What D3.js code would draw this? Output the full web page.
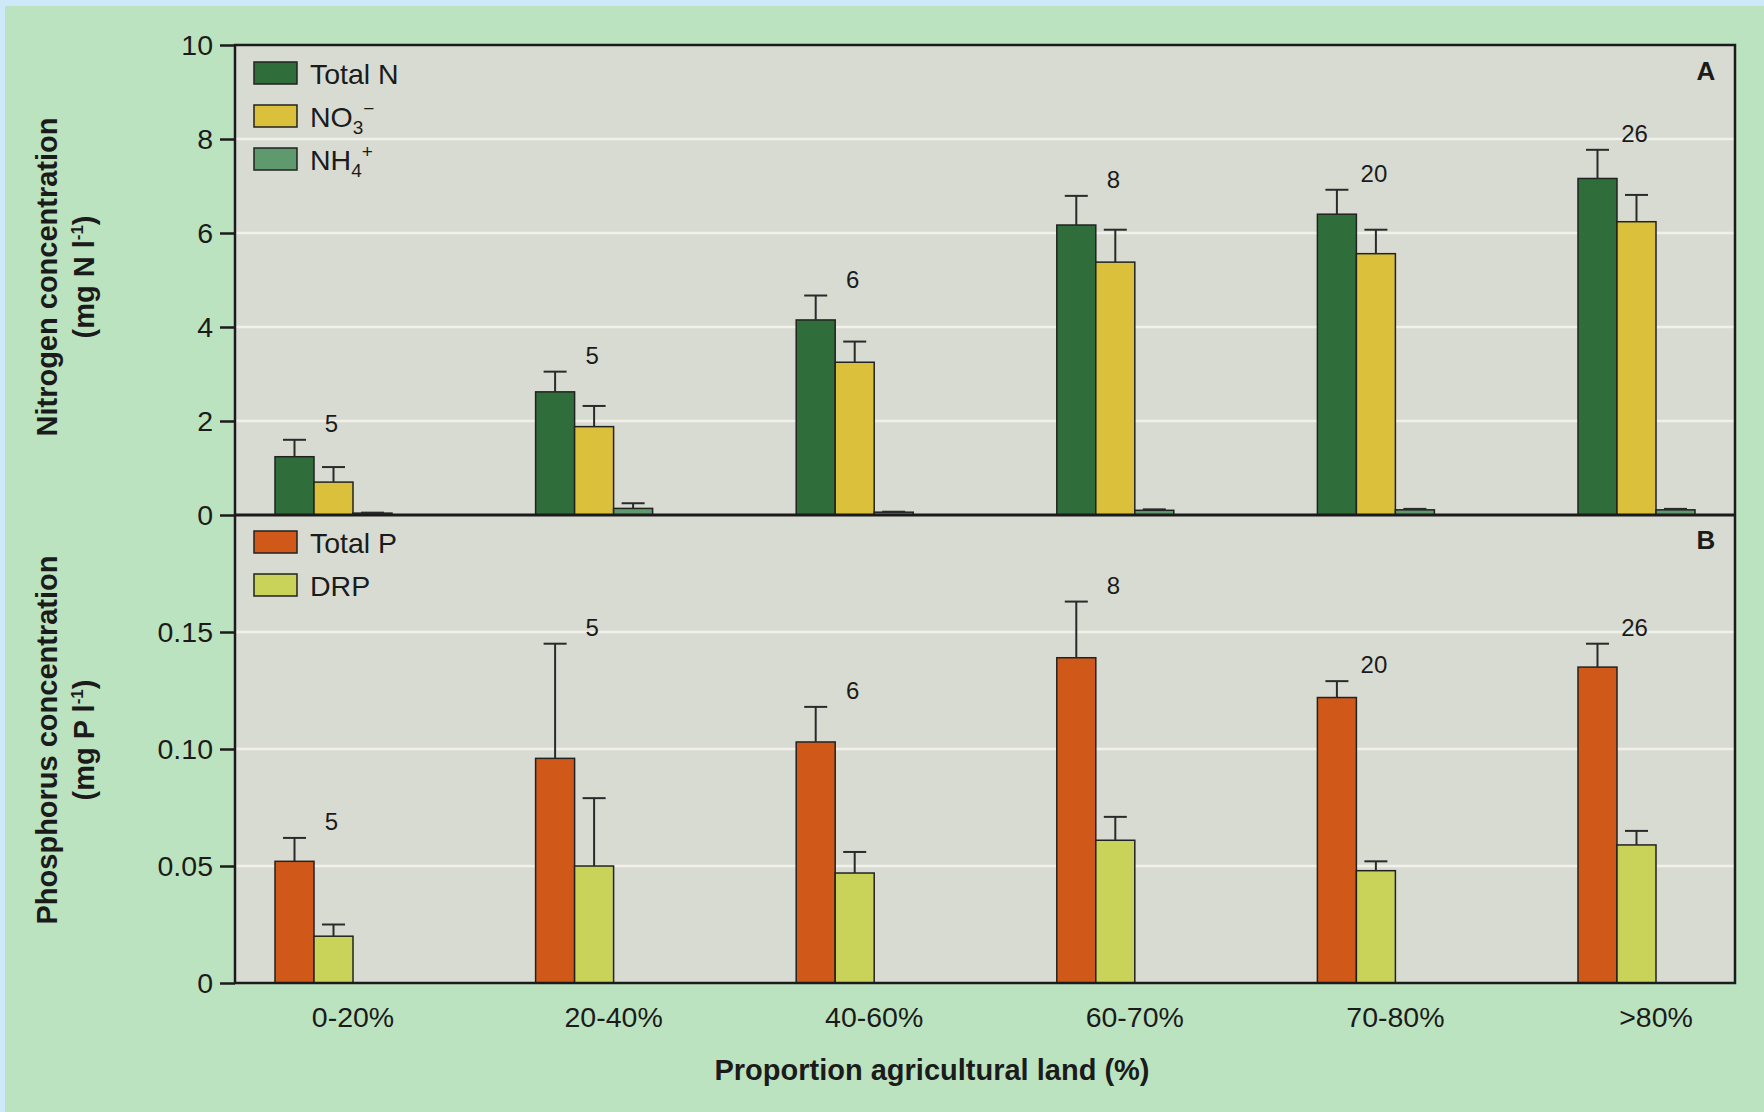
<!DOCTYPE html>
<html>
<head>
<meta charset="utf-8">
<script src="https://cdn.jsdelivr.net/npm/d3@7/dist/d3.min.js"></script>
<style>
  html, body { margin: 0; padding: 0; background: #cde8f8; }
  svg { display: block; font-family: "Liberation Sans", Arial, Helvetica, sans-serif; }
</style>
</head>
<body>
<svg id="chart" width="1764" height="1112"></svg>
<script>
// Land-use classes along the x axis
const categories = ["0-20%", "20-40%", "40-60%", "60-70%", "70-80%", ">80%"];
// Number of sites per class
const siteCounts = [5, 5, 6, 8, 20, 26];

// Panel A: nitrogen (mg N l-1), means and standard errors
const totalN    = [1.24, 2.62, 4.15, 6.17, 6.40, 7.16];
const totalNErr = [0.36, 0.43, 0.52, 0.62, 0.52, 0.61];
const nitrate    = [0.70, 1.88, 3.25, 5.38, 5.56, 6.24];
const nitrateErr = [0.32, 0.44, 0.44, 0.69, 0.51, 0.57];
const ammonium    = [0.04, 0.14, 0.06, 0.10, 0.11, 0.11];
const ammoniumErr = [0.01, 0.11, 0.01, 0.02, 0.02, 0.02];

// Panel B: phosphorus (mg P l-1), means and standard errors
const totalP    = [0.052, 0.096, 0.103, 0.139, 0.122, 0.135];
const totalPErr = [0.010, 0.049, 0.015, 0.024, 0.007, 0.010];
const drp    = [0.020, 0.050, 0.047, 0.061, 0.048, 0.059];
const drpErr = [0.005, 0.029, 0.009, 0.010, 0.004, 0.006];

// Axis ticks
const nTicks = [0, 2, 4, 6, 8, 10];
const pTicks = [0, 0.05, 0.10, 0.15];

const svg = d3.select("#chart");
const W = 1764, H = 1112;

const plot = { left: 235, right: 1735, top: 45, mid: 515, bottom: 983 };

const C = {
  green: "#bbe3bf",
  panel: "#d8dbd2",
  grid: "#f1f1ea",
  ink: "#1b1b1b",
  totalN: "#2f6e3a",
  nitrate: "#dbc03c",
  ammonium: "#5f9a6f",
  totalP: "#d0591a",
  drp: "#c9d35a"
};

// Background
svg.append("rect").attr("x", 5).attr("y", 6).attr("width", W - 5).attr("height", H - 6).attr("fill", C.green);
svg.append("rect")
  .attr("x", plot.left).attr("y", plot.top)
  .attr("width", plot.right - plot.left).attr("height", plot.bottom - plot.top)
  .attr("fill", C.panel);

// Scales
const x = d3.scaleBand().domain(categories)
  .range([plot.left + 40, plot.right - 40])
  .paddingInner(0.551).paddingOuter(0);
const slot = d3.scaleBand().domain([0, 1, 2]).range([0, x.bandwidth()]);
const bw = slot.bandwidth();

const yN = d3.scaleLinear().domain([0, 10]).range([plot.mid, plot.top]);
const yP = d3.scaleLinear().domain([0, 0.2]).range([plot.bottom, plot.mid]);

// Gridlines
function grid(y, values) {
  svg.append("g").selectAll("line").data(values).join("line")
    .attr("x1", plot.left).attr("x2", plot.right)
    .attr("y1", d => y(d)).attr("y2", d => y(d))
    .attr("stroke", C.grid).attr("stroke-width", 2.5);
}
grid(yN, nTicks.filter(d => d > 0 && d < 10));
grid(yP, pTicks.filter(d => d > 0));

// Bars with error bars
function series(y, values, errs, slotIndex, color) {
  const rows = categories.map((c, i) => ({ c, v: values[i], e: errs[i] }));
  const g = svg.append("g");
  g.selectAll("rect").data(rows).join("rect")
    .attr("x", d => x(d.c) + slot(slotIndex))
    .attr("y", d => y(d.v))
    .attr("width", bw)
    .attr("height", d => y(0) - y(d.v))
    .attr("fill", color)
    .attr("stroke", "#222").attr("stroke-width", 1.5);
  const eb = g.selectAll("g.err").data(rows).join("g").attr("class", "err");
  const cx = d => x(d.c) + slot(slotIndex) + bw / 2;
  eb.append("line")
    .attr("x1", cx).attr("x2", cx)
    .attr("y1", d => y(d.v)).attr("y2", d => y(d.v + d.e))
    .attr("stroke", "#2a2a2a").attr("stroke-width", 2);
  eb.append("line")
    .attr("x1", d => cx(d) - 11.5).attr("x2", d => cx(d) + 11.5)
    .attr("y1", d => y(d.v + d.e)).attr("y2", d => y(d.v + d.e))
    .attr("stroke", "#2a2a2a").attr("stroke-width", 2);
}
series(yN, totalN, totalNErr, 0, C.totalN);
series(yN, nitrate, nitrateErr, 1, C.nitrate);
series(yN, ammonium, ammoniumErr, 2, C.ammonium);
series(yP, totalP, totalPErr, 0, C.totalP);
series(yP, drp, drpErr, 1, C.drp);

// Site counts above the first bar's error bar
function counts(y, values, errs) {
  svg.append("g").selectAll("text").data(categories).join("text")
    .attr("x", c => x(c) + bw * 1.45)
    .attr("y", (c, i) => y(values[i] + errs[i]) - 8)
    .attr("text-anchor", "middle")
    .attr("font-size", 24).attr("fill", C.ink)
    .text((c, i) => siteCounts[i]);
}
counts(yN, totalN, totalNErr);
counts(yP, totalP, totalPErr);

// Frame
svg.append("rect")
  .attr("x", plot.left).attr("y", plot.top)
  .attr("width", plot.right - plot.left).attr("height", plot.bottom - plot.top)
  .attr("fill", "none").attr("stroke", C.ink).attr("stroke-width", 2.5);
svg.append("line")
  .attr("x1", plot.left).attr("x2", plot.right)
  .attr("y1", plot.mid).attr("y2", plot.mid)
  .attr("stroke", C.ink).attr("stroke-width", 3);

// Y axes
function yAxis(y, values, fmt) {
  const g = svg.append("g").attr("transform", `translate(${plot.left},0)`)
    .call(d3.axisLeft(y).tickValues(values).tickFormat(fmt).tickSize(15).tickSizeOuter(0).tickPadding(7));
  g.select(".domain").remove();
  g.selectAll(".tick line").attr("stroke", C.ink).attr("stroke-width", 2.5);
  g.selectAll(".tick text").attr("font-size", 28.5).attr("fill", C.ink)
    .attr("font-family", "Liberation Sans, Arial, sans-serif");
}
yAxis(yN, nTicks, d => String(d));
yAxis(yP, pTicks, d => d === 0 ? "0" : d.toFixed(2));

// X tick labels, centred under the second and third bar slots
svg.append("g").selectAll("text").data(categories).join("text")
  .attr("x", c => x(c) + 2 * bw)
  .attr("y", 1027)
  .attr("text-anchor", "middle")
  .attr("font-size", 28.5).attr("fill", C.ink)
  .text(c => c);

// Axis titles
svg.append("text")
  .attr("x", 932).attr("y", 1080)
  .attr("text-anchor", "middle")
  .attr("font-size", 29).attr("font-weight", "bold").attr("fill", C.ink)
  .text("Proportion agricultural land (%)");

function yTitle(yc, line1, unitLetter) {
  const g = svg.append("g").attr("font-size", 29).attr("font-weight", "bold").attr("fill", C.ink)
    .attr("text-anchor", "middle");
  g.append("text").attr("transform", `translate(57,${yc}) rotate(-90)`).text(line1);
  const t = g.append("text").attr("transform", `translate(94,${yc}) rotate(-90)`);
  t.append("tspan").text(`(mg ${unitLetter} l`);
  t.append("tspan").attr("font-size", 17).attr("dy", -11).text("-1");
  t.append("tspan").attr("dy", 11).text(")");
}
yTitle(277, "Nitrogen concentration", "N");
yTitle(740, "Phosphorus concentration", "P");

// Panel letters
svg.append("text").attr("x", 1706).attr("y", 80).attr("text-anchor", "middle")
  .attr("font-size", 26).attr("font-weight", "bold").attr("fill", C.ink).text("A");
svg.append("text").attr("x", 1706).attr("y", 549).attr("text-anchor", "middle")
  .attr("font-size", 26).attr("font-weight", "bold").attr("fill", C.ink).text("B");

// Legends
function legend(items, top) {
  const g = svg.append("g");
  items.forEach((it, i) => {
    const y0 = top + i * 43;
    g.append("rect").attr("x", 254).attr("y", y0).attr("width", 43).attr("height", 22)
      .attr("fill", it.color).attr("stroke", "#222").attr("stroke-width", 1.5);
    const t = g.append("text").attr("x", 310).attr("y", y0 + 22)
      .attr("font-size", 28.5).attr("fill", C.ink);
    t.append("tspan").text(it.label);
    if (it.sub) t.append("tspan").attr("font-size", 19).attr("dy", 7).text(it.sub);
    if (it.sup) t.append("tspan").attr("font-size", 19).attr("dy", -19).text(it.sup);
  });
}
legend([
  { label: "Total N", color: C.totalN },
  { label: "NO", sub: "3", sup: "\u2212", color: C.nitrate },
  { label: "NH", sub: "4", sup: "+", color: C.ammonium }
], 62);
legend([
  { label: "Total P", color: C.totalP },
  { label: "DRP", color: C.drp }
], 531);
</script>
</body>
</html>
